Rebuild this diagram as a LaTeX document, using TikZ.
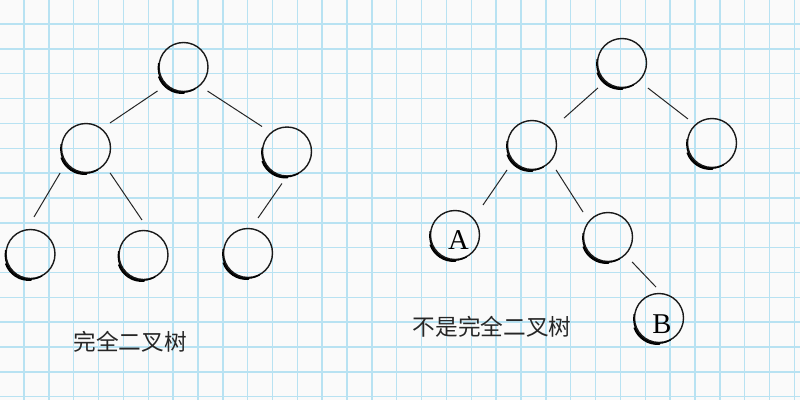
\documentclass[tikz,border=0pt]{standalone}
\usepackage{fontspec}
\setmainfont{Liberation Serif}
\newfontfamily\cjk{Noto Sans CJK SC}
\usetikzlibrary{calc}
\definecolor{gridblue}{RGB}{184,226,242}
\definecolor{paper}{RGB}{250,250,250}
\begin{document}
\begin{tikzpicture}[x=0.75pt,y=-0.75pt,
  nd/.style={circle,draw=black!90,line width=1.05pt,minimum size=36.75pt,inner sep=0pt},
  letter/.style={font=\fontsize{21.5}{21.5}\selectfont,inner sep=0pt},
  edge/.style={draw=black!85,line width=0.75pt},
  gridl/.style={draw=gridblue,line width=1.1pt},
  shd/.style={draw=black,line width=0.9pt,line cap=round},
  shd2/.style={draw=black,line width=1.2pt,line cap=round},
  lbl/.style={font=\cjk\fontsize{17}{17}\selectfont,text=black!85,inner sep=0pt}]
\fill[paper] (0,0) rectangle (800,400);
\useasboundingbox (0,0) rectangle (800,400);
\foreach \k in {0,...,31}{\draw[gridl] ({24+24.85*\k},0) -- ({24+24.85*\k},400);}
\foreach \k in {0,...,15}{\draw[gridl] (0,{24+24.85*\k}) -- (800,{24+24.85*\k});}
% left tree
\node[nd] (r1) at (183.5,67) {};
\node[nd] (l1) at (86,148) {};
\node[nd] (q1) at (287,151.5) {};
\node[nd] (ll1) at (30.5,254) {};
\node[nd] (lm1) at (143.5,255) {};
\node[nd] (ql1) at (248,253) {};
% right tree
\node[nd] (r2) at (622,63) {};
\node[nd] (l2) at (532,145) {};
\node[nd] (q2) at (712,143) {};
\node[nd] (a) at (455,235) {};
\node[nd] (m2) at (608,237) {};
\node[nd] (b) at (659,318) {};
\node[letter] (ta) at (458.5,240) {A};
\node[letter] (tb) at (662,324) {B};
% shadows
\foreach \n in {r1,l1,q1,ll1,lm1,ql1,r2,l2,q2,a,m2,b}{
  \draw[shd] ($(\n)+(170:18.4pt)+(-0.8,0.8)$) arc[start angle=170,end angle=300,radius=18.4pt];
  \draw[shd2] ($(\n)+(200:18.4pt)+(-1.6,1.6)$) arc[start angle=200,end angle=275,radius=18.4pt];
}
% edges
\draw[edge] ($(r1)+(222.7:26.5pt)$) -- ($(l1)+(46.2:26pt)$);
\draw[edge] ($(r1)+(-45:25.5pt)$) -- ($(q1)+(135:26.5pt)$);
\draw[edge] ($(l1)+(224:27pt)$) -- ($(ll1)+(84.6:27.9pt)$);
\draw[edge] ($(l1)+(-46:26pt)$) -- ($(lm1)+(92.5:26.3pt)$);
\draw[edge] ($(q1)+(261:24.3pt)$) -- ($(ql1)+(74:27.3pt)$);
\draw[edge] ($(r2)+(226:26pt)$) -- ($(l2)+(40:31.4pt)$);
\draw[edge] ($(r2)+(-44:27pt)$) -- ($(q2)+(135:25.5pt)$);
\draw[edge] ($(l2)+(225:26.5pt)$) -- ($(a)+(47:30.8pt)$);
\draw[edge] ($(l2)+(-46:26pt)$) -- ($(m2)+(135:26.5pt)$);
\draw[edge] ($(m2)+(-46:26pt)$) -- ($(b)+(95.5:23.3pt)$);
% labels
\node[lbl] (t1) at (130,342) {完全二叉树};
\node[lbl] (t2) at (492,327) {不是完全二叉树};
\end{tikzpicture}
\end{document}
